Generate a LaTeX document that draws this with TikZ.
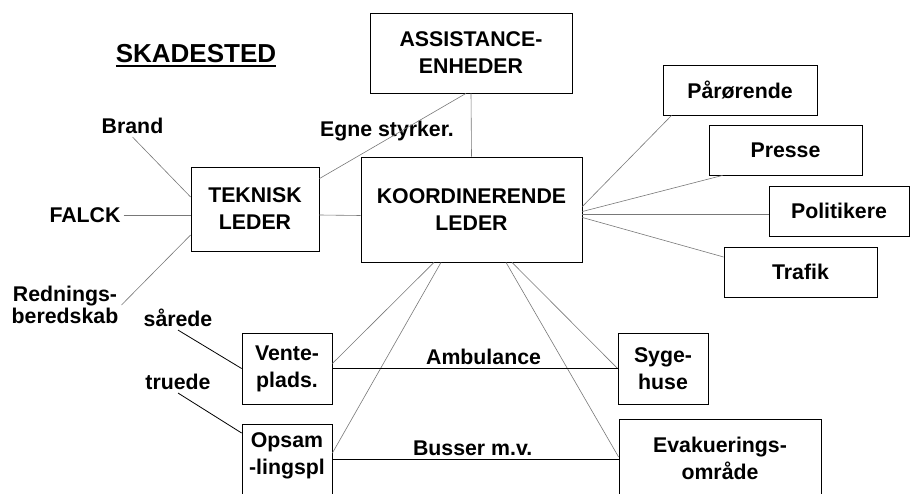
\documentclass[tikz,border=0pt]{standalone}
\usepackage{fontspec}
\setmainfont{Liberation Sans}
\usetikzlibrary{calc}
\newcommand\boxfont{\fontsize{21.3}{27}\selectfont\bfseries}
\newcommand\headfont{\fontsize{26}{30}\selectfont\bfseries}
\newcommand\thickul[1]{\vtop{\hbox{#1}\kern1.5pt\hrule height 1.8pt}}
\definecolor{linegray}{RGB}{120,120,120}

\begin{document}
\begin{tikzpicture}[x=1pt, y=-1pt, font=\boxfont,
  unit/.style={draw, line width=0.8pt, align=center, inner sep=0pt},
  word/.style={align=center, inner sep=3pt},
  link/.style={draw=linegray, line width=0.6pt},
  route/.style={draw=black, line width=0.8pt}]
	\useasboundingbox (0,0) rectangle (910,494);
	\clip (0,0) rectangle (910,494);
	\node[font=\headfont, anchor=base] (title) at (196,63) {\thickul{SKADESTED}};
	% boxes
	\node[unit, minimum width=202pt, minimum height=80pt] (assist) at (471,53) {ASSISTANCE-\\ENHEDER};
	\node[unit, minimum width=128pt, minimum height=84pt] (tek) at (255,209) {TEKNISK\\LEDER};
	\node[unit, minimum width=221pt, minimum height=105pt] (koord) at (471.5,209.5) {KOORDINERENDE\\LEDER};
	\node[unit, minimum width=154pt, minimum height=50pt] (paar) at (740,90) {Pårørende};
	\node[unit, minimum width=153pt, minimum height=50pt] (presse) at (785.5,150) {Presse};
	\node[unit, minimum width=140pt, minimum height=50pt] (polit) at (839,211) {Politikere};
	\node[unit, minimum width=153pt, minimum height=50pt] (trafik) at (800.5,272) {Trafik};
	\node[unit, minimum width=90pt, minimum height=71pt] (vente) at (287,368.5) {Vente-\\plads.};
	\node[unit, minimum width=90pt, minimum height=71pt] (syge) at (663,368.5) {Syge-\\huse};
	\node[unit, anchor=north, minimum width=90pt, inner ysep=8.4pt] (opsam) at (287,424) {Opsam\\-lingspl\\\mbox{}};
	\node[unit, anchor=north, minimum width=202pt, inner ysep=17.4pt] (evak) at (720,419) {Evakuerings-\\område\\\mbox{}};
	% free labels
	\node[word] (egne) at (387,131) {Egne styrker.};
	\node[word] (brand) at (132.5,126) {Brand};
	\node[word] (falck) at (85,215) {FALCK};
	\node[word] (redn) at (65,305) {Rednings-\\[-5pt]beredskab};
	\node[word] (saarede) at (178,318) {sårede};
	\node[word] (truede) at (178,382) {truede};
	% left side
	\path (brand.south) edge[link] ($(tek.west)+(0,-12)$);
	\path (falck.east) edge[link] ($(tek.west)+(0,6)$);
	\path (redn.east) edge[link] ($(tek.west)+(0,26)$);
	\path ($(tek.east)+(0,6)$) edge[link] ($(koord.west)+(0,6)$);
	\path ($(tek.north east)+(0,12)$) edge[link] ($(assist.south)+(-5,0)$);
	\path (assist.south) edge[link] (koord.north);
	% right side
	\path ($(koord.east)+(0,-3)$) edge[link] ($(paar.south west)+(9,0)$);
	\path ($(koord.east)+(0,2)$) edge[link] ($(presse.south west)+(14,0)$);
	\path ($(koord.east)+(0,5)$) edge[link] ($(polit.west)+(0,3.5)$);
	\path ($(koord.east)+(0,8)$) edge[link] ($(trafik.west)+(0,-15)$);
	% down to the places
	\path ($(koord.south)+(-37.5,0)$) edge[link] ($(vente.east)+(0,-5)$);
	\path ($(koord.south)+(-30.5,0)$) edge[link] ($(opsam.north east)+(0,29)$);
	\path ($(koord.south)+(34.5,0)$) edge[link] ($(evak.north west)+(0,38)$);
	\path ($(koord.south)+(40.5,0)$) edge[link] (syge.west);
	\path (saarede.south) edge[route] (vente.west);
	\path (truede.south) edge[route] ($(opsam.north west)+(0,9)$);
	\path (vente.east) edge[route] node[pos=0.53, above] (amb) {Ambulance} (syge.west);
	\path ($(opsam.north east)+(0,35)$) edge[route] node[pos=0.49, above] (bus) {Busser m.v.} ($(evak.north west)+(0,40)$);
\end{tikzpicture}
\end{document}
